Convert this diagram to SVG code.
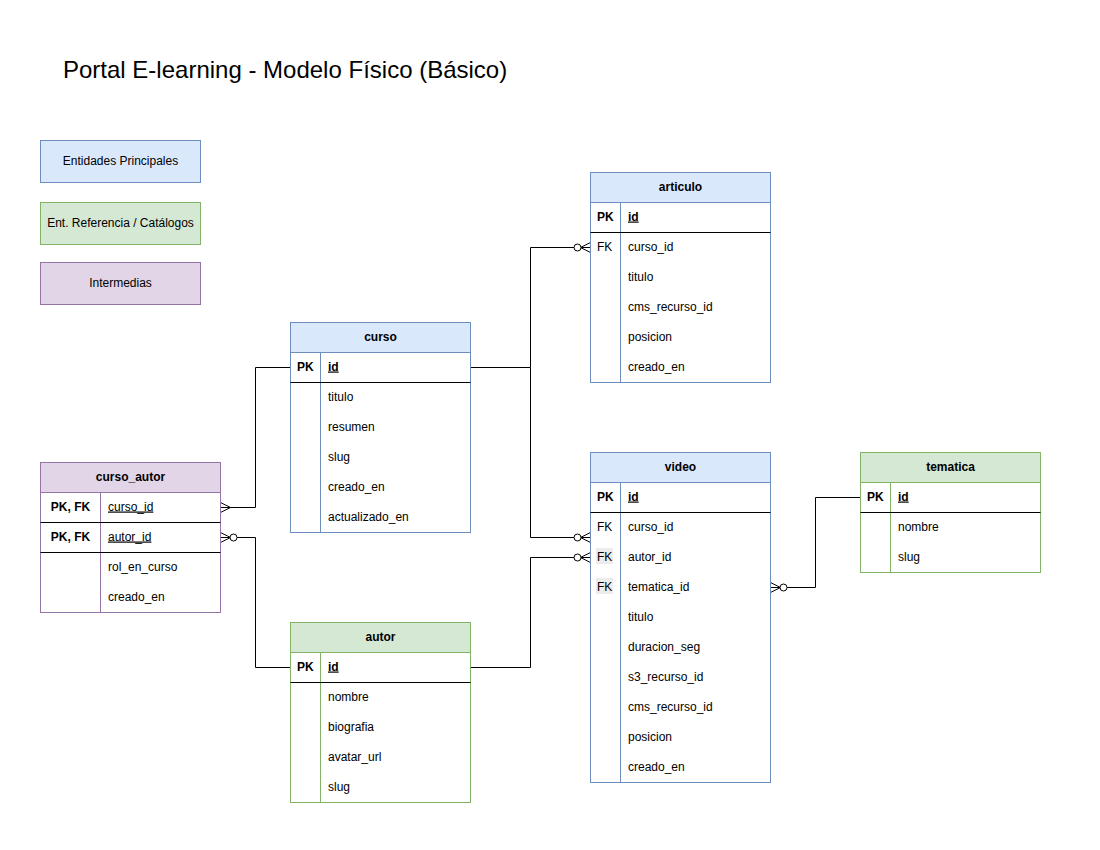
<svg xmlns="http://www.w3.org/2000/svg" width="1100" height="850" viewBox="0 0 1100 850">
<style>
text{font-family:"Liberation Sans",Arial,Helvetica,sans-serif;font-size:12px;fill:#000}
.title{font-size:24px}
.hdr{font-weight:bold;text-anchor:middle}
.b{font-weight:bold}
.u{text-decoration:underline}
.c{text-anchor:middle}
.blue{fill:#dae8fc;stroke:#6c8ebf}
.green{fill:#d5e8d4;stroke:#82b366}
.purple{fill:#e1d5e7;stroke:#9673a6}
.wb{fill:#fff;stroke:#6c8ebf}
.wg{fill:#fff;stroke:#82b366}
.wp{fill:#fff;stroke:#9673a6}
.sb{stroke:#6c8ebf}
.sg{stroke:#82b366}
.sp{stroke:#9673a6}
.sep{stroke:#000;stroke-width:1}
.conn path{fill:none;stroke:#000;stroke-width:1}
.mk{fill:none;stroke:#000;stroke-width:1}
.ci{fill:#fff;stroke:#000;stroke-width:1}
.hl{fill:#ececec}
</style>
<rect width="1100" height="850" fill="#fff"/>
<text class="title" x="63" y="78">Portal E-learning - Modelo Físico (Básico)</text>

<g id="legend">
<rect class="blue" x="40.5" y="140.5" width="160" height="42"/>
<text class="c" x="120.5" y="164.5">Entidades Principales</text>
<rect class="green" x="40.5" y="202.5" width="160" height="42"/>
<text class="c" x="120.5" y="226.5">Ent. Referencia / Catálogos</text>
<rect class="purple" x="40.5" y="262.5" width="160" height="42"/>
<text class="c" x="120.5" y="286.5">Intermedias</text>
</g>

<g id="connectors" class="conn">
<path d="M290.5 367.5 H255.5 V507.5 H220.5"/>
<path d="M290.5 667.5 H255.5 V537.5 H237"/>
<path d="M470.5 367.5 H530.5 V247.5 H574"/>
<path d="M530.5 367.5 V537.5 H574"/>
<path d="M470.5 667.5 H530.5 V557.5 H574"/>
<path d="M860.5 497.5 H815.5 V587.5 H787"/>
<path class="mk" d="M220.5 502.5 L230.5 507.5 L220.5 512.5 M220.5 507.5 H230.5"/>
<path class="mk" d="M220.5 532.5 L230.5 537.5 L220.5 542.5 M220.5 537.5 H230.5"/>
<circle class="ci" cx="233.5" cy="537.5" r="3.5"/>
<path class="mk" d="M590.5 242.5 L580.5 247.5 L590.5 252.5 M590.5 247.5 H580.5"/>
<circle class="ci" cx="577.5" cy="247.5" r="3.5"/>
<path class="mk" d="M590.5 532.5 L580.5 537.5 L590.5 542.5 M590.5 537.5 H580.5"/>
<circle class="ci" cx="577.5" cy="537.5" r="3.5"/>
<path class="mk" d="M590.5 552.5 L580.5 557.5 L590.5 562.5 M590.5 557.5 H580.5"/>
<circle class="ci" cx="577.5" cy="557.5" r="3.5"/>
<path class="mk" d="M770.5 582.5 L780.5 587.5 L770.5 592.5 M770.5 587.5 H780.5"/>
<circle class="ci" cx="783.5" cy="587.5" r="3.5"/>
</g>

<g id="curso">
<rect class="wb" x="290.5" y="322.5" width="180" height="210"/>
<rect class="blue" x="290.5" y="322.5" width="180" height="30"/>
<text class="hdr" x="380.5" y="340.5">curso</text>
<line class="sb" x1="320.5" y1="352.5" x2="320.5" y2="532.5"/>
<line class="sep" x1="290.5" y1="382.5" x2="470.5" y2="382.5"/>
<text class="b" x="297" y="370.5">PK</text>
<text class="b u" x="328" y="370.5">id</text>
<text x="328" y="400.5">titulo</text>
<text x="328" y="430.5">resumen</text>
<text x="328" y="460.5">slug</text>
<text x="328" y="490.5">creado_en</text>
<text x="328" y="520.5">actualizado_en</text>
</g>

<g id="articulo">
<rect class="wb" x="590.5" y="172.5" width="180" height="210"/>
<rect class="blue" x="590.5" y="172.5" width="180" height="30"/>
<text class="hdr" x="680.5" y="190.5">articulo</text>
<line class="sb" x1="620.5" y1="202.5" x2="620.5" y2="382.5"/>
<line class="sep" x1="590.5" y1="232.5" x2="770.5" y2="232.5"/>
<text class="b" x="597" y="220.5">PK</text>
<text class="b u" x="628" y="220.5">id</text>
<text x="597" y="250.5">FK</text>
<text x="628" y="250.5">curso_id</text>
<text x="628" y="280.5">titulo</text>
<text x="628" y="310.5">cms_recurso_id</text>
<text x="628" y="340.5">posicion</text>
<text x="628" y="370.5">creado_en</text>
</g>

<g id="video">
<rect class="wb" x="590.5" y="452.5" width="180" height="330"/>
<rect class="blue" x="590.5" y="452.5" width="180" height="30"/>
<text class="hdr" x="680.5" y="470.5">video</text>
<line class="sb" x1="620.5" y1="482.5" x2="620.5" y2="782.5"/>
<line class="sep" x1="590.5" y1="512.5" x2="770.5" y2="512.5"/>
<text class="b" x="597" y="500.5">PK</text>
<text class="b u" x="628" y="500.5">id</text>
<text x="597" y="530.5">FK</text>
<text x="628" y="530.5">curso_id</text>
<rect class="hl" x="596" y="548" width="17" height="16"/>
<text x="597" y="560.5">FK</text>
<text x="628" y="560.5">autor_id</text>
<rect class="hl" x="596" y="578" width="17" height="16"/>
<text x="597" y="590.5">FK</text>
<text x="628" y="590.5">tematica_id</text>
<text x="628" y="620.5">titulo</text>
<text x="628" y="650.5">duracion_seg</text>
<text x="628" y="680.5">s3_recurso_id</text>
<text x="628" y="710.5">cms_recurso_id</text>
<text x="628" y="740.5">posicion</text>
<text x="628" y="770.5">creado_en</text>
</g>

<g id="tematica">
<rect class="wg" x="860.5" y="452.5" width="180" height="120"/>
<rect class="green" x="860.5" y="452.5" width="180" height="30"/>
<text class="hdr" x="950.5" y="470.5">tematica</text>
<line class="sg" x1="890.5" y1="482.5" x2="890.5" y2="572.5"/>
<line class="sep" x1="860.5" y1="512.5" x2="1040.5" y2="512.5"/>
<text class="b" x="867" y="500.5">PK</text>
<text class="b u" x="898" y="500.5">id</text>
<text x="898" y="530.5">nombre</text>
<text x="898" y="560.5">slug</text>
</g>

<g id="curso_autor">
<rect class="wp" x="40.5" y="462.5" width="180" height="150"/>
<rect class="purple" x="40.5" y="462.5" width="180" height="30"/>
<text class="hdr" x="130.5" y="480.5">curso_autor</text>
<line class="sp" x1="100.5" y1="492.5" x2="100.5" y2="612.5"/>
<line class="sep" x1="40.5" y1="522.5" x2="220.5" y2="522.5"/>
<line class="sep" x1="40.5" y1="552.5" x2="220.5" y2="552.5"/>
<text class="b c" x="70.5" y="510.5">PK, FK</text>
<text class="u" x="108" y="510.5">curso_id</text>
<text class="b c" x="70.5" y="540.5">PK, FK</text>
<text class="u" x="108" y="540.5">autor_id</text>
<text x="108" y="570.5">rol_en_curso</text>
<text x="108" y="600.5">creado_en</text>
</g>

<g id="autor">
<rect class="wg" x="290.5" y="622.5" width="180" height="180"/>
<rect class="green" x="290.5" y="622.5" width="180" height="30"/>
<text class="hdr" x="380.5" y="640.5">autor</text>
<line class="sg" x1="320.5" y1="652.5" x2="320.5" y2="802.5"/>
<line class="sep" x1="290.5" y1="682.5" x2="470.5" y2="682.5"/>
<text class="b" x="297" y="670.5">PK</text>
<text class="b u" x="328" y="670.5">id</text>
<text x="328" y="700.5">nombre</text>
<text x="328" y="730.5">biografia</text>
<text x="328" y="760.5">avatar_url</text>
<text x="328" y="790.5">slug</text>
</g>
</svg>
